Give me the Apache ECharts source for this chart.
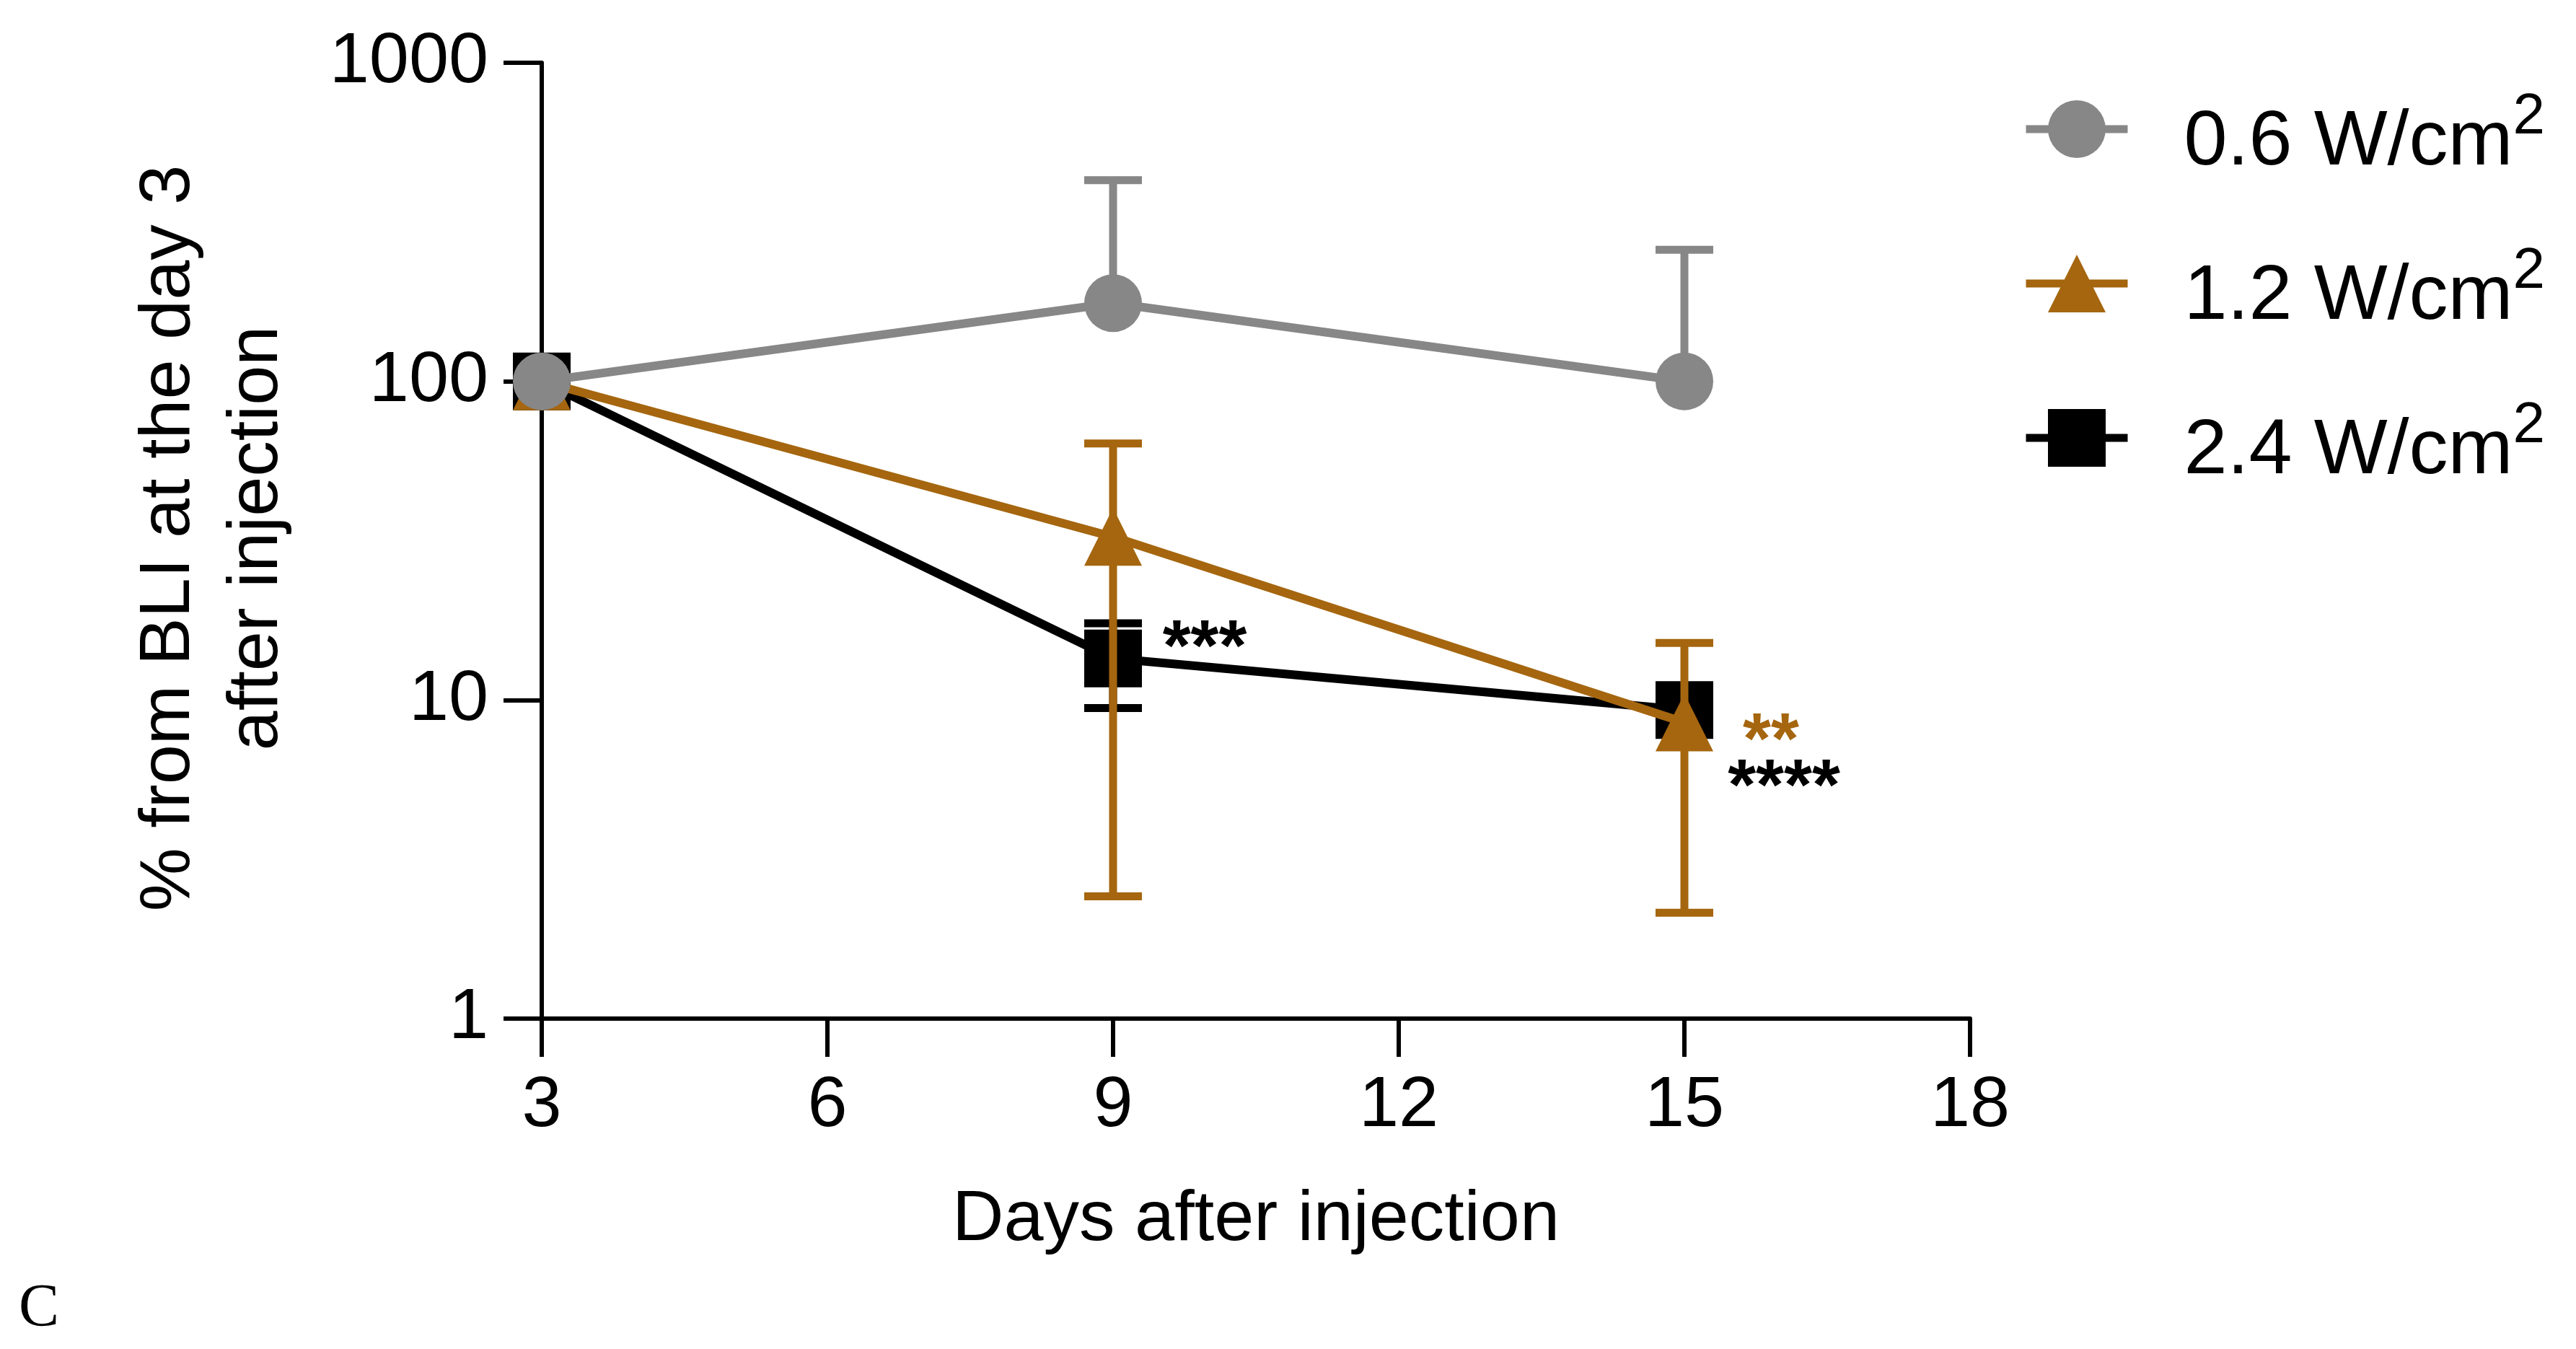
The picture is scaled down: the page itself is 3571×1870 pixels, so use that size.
<!DOCTYPE html>
<html>
<head>
<meta charset="utf-8">
<script src="https://cdn.jsdelivr.net/npm/echarts@6/dist/echarts.min.js"></script>
<style>
  html, body { margin: 0; padding: 0; background: #fff; }
  #chart { width: 3571px; height: 1870px; }
</style>
</head>
<body>
<div id="chart"></div>
<script>
// ---- data ----
const days = [3, 9, 15];
const doseLabels = ['0.6', '1.2', '2.4'];
const dose06 = [100, 176, 100];
const dose06Upper = [null, 428, 259];
const dose06Lower = [null, null, null];
const dose12 = [100, 32.5, 8.5];
const dose12Upper = [null, 63.8, 15.1];
const dose12Lower = [null, 2.42, 2.15];
const dose24 = [100, 13.5, 9.3];
const dose24Upper = [null, 17.4, null];
const dose24Lower = [null, 9.44, null];
const xTicks = [3, 6, 9, 12, 15, 18];
const yTicks = [1, 10, 100, 1000];
const starText = ['***', '**', '****'];
const starDay = [9, 15, 15];
const starDose = ['2.4', '1.2', '2.4'];

// ---- styles ----
const FONT = '"Liberation Sans", Arial, Helvetica, sans-serif';
const colors = { '0.6': '#878787', '1.2': '#A5660F', '2.4': '#000000' };
const symbols = { '0.6': 'circle', '1.2': 'triangle', '2.4': 'rect' };
const starColor = ['#000000', '#A5660F', '#000000'];
const starOffset = [[127, -11], [120, 29], [138, 110]];

const valuesOf = { '0.6': dose06, '1.2': dose12, '2.4': dose24 };
const upperOf = { '0.6': dose06Upper, '1.2': dose12Upper, '2.4': dose24Upper };
const lowerOf = { '0.6': dose06Lower, '1.2': dose12Lower, '2.4': dose24Lower };
const nameOf = d => d + ' W/cm²';

function errorSeries(d, z) {
  const vals = valuesOf[d], up = upperOf[d], lo = lowerOf[d], color = colors[d];
  return {
    type: 'custom', z: z, silent: true,
    data: days.map((x, i) => [x, vals[i]]),
    renderItem: function (params, api) {
      const i = params.dataIndex;
      const x = api.value(0);
      const c = api.coord([x, vals[i]]);
      const hw = 40;
      const st = { stroke: color, lineWidth: 11, lineCap: 'butt' };
      const ch = [];
      [up[i], lo[i]].forEach(v => {
        if (v == null) return;
        const t = api.coord([x, v]);
        ch.push({ type: 'line', shape: { x1: c[0], y1: c[1], x2: t[0], y2: t[1] }, style: st });
        ch.push({ type: 'line', shape: { x1: t[0] - hw, y1: t[1], x2: t[0] + hw, y2: t[1] }, style: st });
      });
      return { type: 'group', children: ch };
    }
  };
}

function lineSeries(d, z) {
  return {
    type: 'line', name: nameOf(d), z: z,
    data: days.map((x, i) => [x, valuesOf[d][i]]),
    symbol: symbols[d], symbolSize: 80, showSymbol: true,
    lineStyle: { color: colors[d], width: 12 },
    itemStyle: { color: colors[d] },
    emphasis: { disabled: true },
    animation: false
  };
}

const starSeries = {
  type: 'custom', z: 10, silent: true,
  data: starDay.map((x, i) => [x, valuesOf[starDose[i]][days.indexOf(x)]]),
  renderItem: function (params, api) {
    const i = params.dataIndex;
    const c = api.coord([api.value(0), api.value(1)]);
    return {
      type: 'text',
      x: c[0] + starOffset[i][0], y: c[1] + starOffset[i][1],
      style: {
        text: starText[i], fill: starColor[i],
        font: 'bold 100px ' + FONT, align: 'center', verticalAlign: 'middle'
      }
    };
  }
};

const chart = echarts.init(document.getElementById('chart'));
chart.setOption({
  animation: false,
  backgroundColor: '#ffffff',
  grid: { left: 751, right: 840, top: 87, bottom: 458, containLabel: false },
  xAxis: {
    type: 'value', min: xTicks[0], max: xTicks[xTicks.length - 1], interval: 3,
    axisLine: { show: true, onZero: false, lineStyle: { color: '#000', width: 6 } },
    axisTick: { show: true, length: 53, lineStyle: { color: '#000', width: 6 } },
    axisLabel: { fontSize: 99, color: '#000', fontFamily: FONT, margin: 72 },
    splitLine: { show: false }
  },
  yAxis: {
    type: 'log', logBase: 10, min: yTicks[0], max: yTicks[yTicks.length - 1],
    axisLine: { show: true, lineStyle: { color: '#000', width: 6 } },
    axisTick: { show: true, length: 53, lineStyle: { color: '#000', width: 6 } },
    axisLabel: { fontSize: 99, color: '#000', fontFamily: FONT, margin: 74,
      formatter: v => String(Math.round(v)) },
    splitLine: { show: false },
    minorTick: { show: false }
  },
  legend: {
    orient: 'vertical', left: 2798, top: 118,
    itemWidth: 141, itemHeight: 100, itemGap: 85,
    selectedMode: false,
    lineStyle: { width: 11 },
    data: doseLabels.map(nameOf),
    formatter: name => '{n|' + name.replace('²', '') + '}{s|2}',
    textStyle: {
      color: '#000', fontFamily: FONT, padding: [38, 0, 0, 73],
      rich: {
        n: { fontSize: 108, fontFamily: FONT, color: '#000', lineHeight: 150 },
        s: { fontSize: 80, fontFamily: FONT, color: '#000', lineHeight: 80, verticalAlign: 'top' }
      }
    }
  },
  graphic: [
    {
      type: 'text', x: 296, y: 746, rotation: Math.PI / 2,
      style: {
        text: '% from BLI at the day 3\nafter injection',
        font: '99px ' + FONT, fill: '#000', align: 'center', verticalAlign: 'middle', lineHeight: 122
      }
    },
    {
      type: 'text', x: 1741, y: 1692,
      style: { text: 'Days after injection', font: '99px ' + FONT, fill: '#000', align: 'center', verticalAlign: 'middle' }
    },
    {
      type: 'text', x: 26, y: 1816,
      style: { text: 'C', font: '84px "Liberation Serif", "Times New Roman", serif', fill: '#000', align: 'left', verticalAlign: 'middle' }
    }
  ],
  series: [
    errorSeries('2.4', 1), lineSeries('2.4', 2),
    errorSeries('1.2', 3), lineSeries('1.2', 4),
    errorSeries('0.6', 5), lineSeries('0.6', 6),
    starSeries
  ]
});
</script>
</body>
</html>
